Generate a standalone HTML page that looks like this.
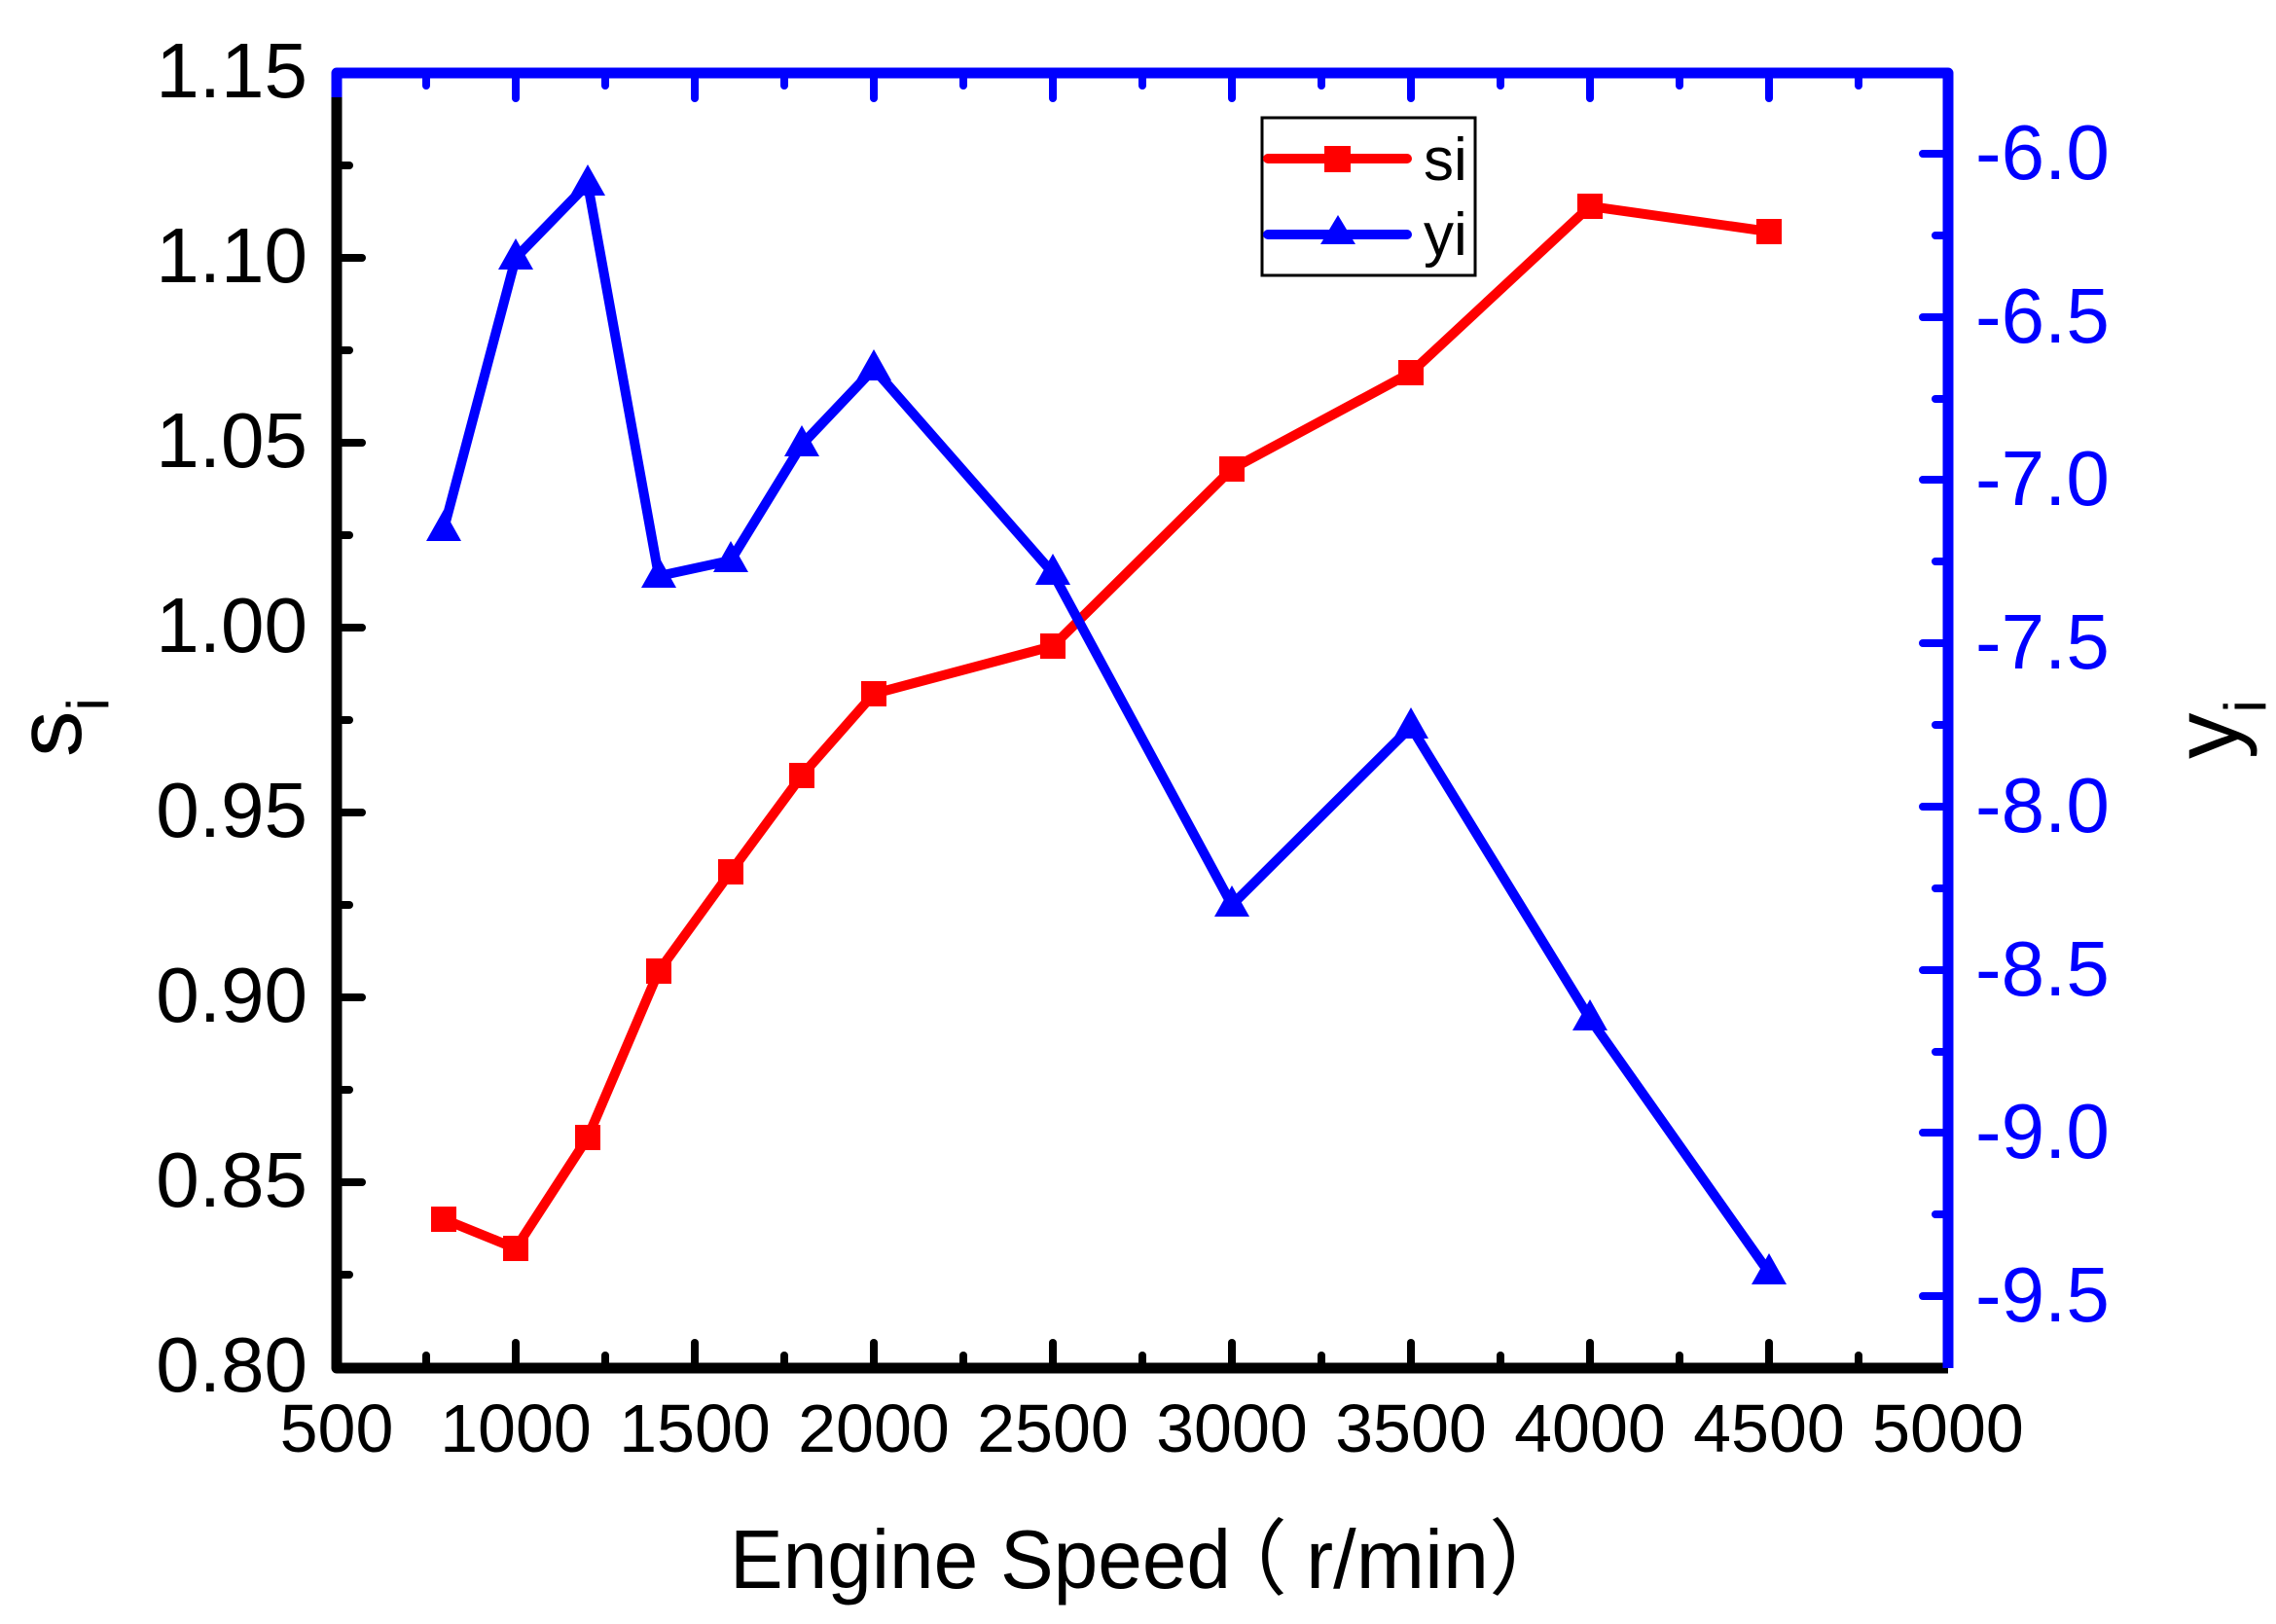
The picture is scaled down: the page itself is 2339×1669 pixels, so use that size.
<!DOCTYPE html>
<html><head><meta charset="utf-8"><style>html,body{margin:0;padding:0;background:#fff}svg{display:block}</style></head>
<body>
<svg width="2339" height="1669" viewBox="0 0 2339 1669" xmlns="http://www.w3.org/2000/svg" font-family="Liberation Sans, Arial, sans-serif">
<rect width="2339" height="1669" fill="#fff"/>
<g stroke="#000" stroke-width="8" stroke-linecap="round">
<line x1="346" y1="1406" x2="346" y2="1380"/><line x1="438" y1="1406" x2="438" y2="1393"/>
<line x1="530" y1="1406" x2="530" y2="1380"/><line x1="622" y1="1406" x2="622" y2="1393"/>
<line x1="714" y1="1406" x2="714" y2="1380"/><line x1="806" y1="1406" x2="806" y2="1393"/>
<line x1="898" y1="1406" x2="898" y2="1380"/><line x1="990" y1="1406" x2="990" y2="1393"/>
<line x1="1082" y1="1406" x2="1082" y2="1380"/><line x1="1174" y1="1406" x2="1174" y2="1393"/>
<line x1="1266" y1="1406" x2="1266" y2="1380"/><line x1="1358" y1="1406" x2="1358" y2="1393"/>
<line x1="1450" y1="1406" x2="1450" y2="1380"/><line x1="1542" y1="1406" x2="1542" y2="1393"/>
<line x1="1634" y1="1406" x2="1634" y2="1380"/><line x1="1726" y1="1406" x2="1726" y2="1393"/>
<line x1="1818" y1="1406" x2="1818" y2="1380"/><line x1="1910" y1="1406" x2="1910" y2="1393"/>
<line x1="346" y1="75" x2="372" y2="75"/><line x1="346" y1="170" x2="359" y2="170"/>
<line x1="346" y1="265" x2="372" y2="265"/><line x1="346" y1="360" x2="359" y2="360"/>
<line x1="346" y1="455" x2="372" y2="455"/><line x1="346" y1="550" x2="359" y2="550"/>
<line x1="346" y1="645" x2="372" y2="645"/><line x1="346" y1="740" x2="359" y2="740"/>
<line x1="346" y1="835" x2="372" y2="835"/><line x1="346" y1="930" x2="359" y2="930"/>
<line x1="346" y1="1025" x2="372" y2="1025"/><line x1="346" y1="1120" x2="359" y2="1120"/>
<line x1="346" y1="1215" x2="372" y2="1215"/><line x1="346" y1="1310" x2="359" y2="1310"/>
</g>
<g stroke="#0000ff" stroke-width="8" stroke-linecap="round">
<line x1="438" y1="75" x2="438" y2="88"/><line x1="530" y1="75" x2="530" y2="101"/>
<line x1="622" y1="75" x2="622" y2="88"/><line x1="714" y1="75" x2="714" y2="101"/>
<line x1="806" y1="75" x2="806" y2="88"/><line x1="898" y1="75" x2="898" y2="101"/>
<line x1="990" y1="75" x2="990" y2="88"/><line x1="1082" y1="75" x2="1082" y2="101"/>
<line x1="1174" y1="75" x2="1174" y2="88"/><line x1="1266" y1="75" x2="1266" y2="101"/>
<line x1="1358" y1="75" x2="1358" y2="88"/><line x1="1450" y1="75" x2="1450" y2="101"/>
<line x1="1542" y1="75" x2="1542" y2="88"/><line x1="1634" y1="75" x2="1634" y2="101"/>
<line x1="1726" y1="75" x2="1726" y2="88"/><line x1="1818" y1="75" x2="1818" y2="101"/>
<line x1="1910" y1="75" x2="1910" y2="88"/>
<line x1="2002" y1="158" x2="1976" y2="158"/><line x1="2002" y1="242" x2="1989" y2="242"/>
<line x1="2002" y1="326" x2="1976" y2="326"/><line x1="2002" y1="410" x2="1989" y2="410"/>
<line x1="2002" y1="493" x2="1976" y2="493"/><line x1="2002" y1="577" x2="1989" y2="577"/>
<line x1="2002" y1="661" x2="1976" y2="661"/><line x1="2002" y1="745" x2="1989" y2="745"/>
<line x1="2002" y1="829" x2="1976" y2="829"/><line x1="2002" y1="913" x2="1989" y2="913"/>
<line x1="2002" y1="997" x2="1976" y2="997"/><line x1="2002" y1="1081" x2="1989" y2="1081"/>
<line x1="2002" y1="1164" x2="1976" y2="1164"/><line x1="2002" y1="1248" x2="1989" y2="1248"/>
<line x1="2002" y1="1332" x2="1976" y2="1332"/>
</g>
<path d="M346 75 L346 1406 L2002 1406" fill="none" stroke="#000" stroke-width="11" stroke-linejoin="round"/>
<path d="M346 100 L346 75 L2002 75 L2002 1406" fill="none" stroke="#0000ff" stroke-width="11" stroke-linejoin="round"/>
<g font-size="80" text-anchor="end" fill="#000">
<text x="316" y="100">1.15</text><text x="316" y="290">1.10</text><text x="316" y="480">1.05</text>
<text x="316" y="670">1.00</text><text x="316" y="860">0.95</text><text x="316" y="1050">0.90</text>
<text x="316" y="1240">0.85</text><text x="316" y="1430">0.80</text>
</g>
<g font-size="80" fill="#0000ff">
<text x="2030" y="184">-6.0</text><text x="2030" y="352">-6.5</text><text x="2030" y="519">-7.0</text>
<text x="2030" y="687">-7.5</text><text x="2030" y="855">-8.0</text><text x="2030" y="1023">-8.5</text>
<text x="2030" y="1190">-9.0</text><text x="2030" y="1358">-9.5</text>
</g>
<g font-size="70" text-anchor="middle" fill="#000">
<text x="346" y="1492">500</text><text x="530" y="1492">1000</text><text x="714" y="1492">1500</text>
<text x="898" y="1492">2000</text><text x="1082" y="1492">2500</text><text x="1266" y="1492">3000</text>
<text x="1450" y="1492">3500</text><text x="1634" y="1492">4000</text><text x="1818" y="1492">4500</text>
<text x="2002" y="1492">5000</text>
</g>
<g font-size="85">
<text x="750" y="1632" textLength="515" lengthAdjust="spacingAndGlyphs">Engine Speed</text>
<text x="1238" y="1632" font-family="Noto Sans CJK SC, sans-serif">（</text>
<text x="1342" y="1632" textLength="188" lengthAdjust="spacingAndGlyphs">r/min</text>
<text x="1530" y="1632" font-family="Noto Sans CJK SC, sans-serif">）</text>
</g>
<text transform="translate(83,778) rotate(-90)" font-size="95">s<tspan font-size="60" dy="28">i</tspan></text>
<text transform="translate(2300,780) rotate(-90)" font-size="95" fill="#000">y<tspan font-size="60" dy="28">i</tspan></text>
<polyline fill="none" stroke="#ff0000" stroke-width="10" stroke-linejoin="round" points="456,1253 530,1283 604,1169 677,998 751,896 824,797 898,713 1082,664 1266,482 1450,383 1634,212 1818,238"/>
<g fill="#ff0000">
<rect x="443" y="1240" width="26" height="26"/><rect x="517" y="1270" width="26" height="26"/>
<rect x="591" y="1156" width="26" height="26"/><rect x="664" y="985" width="26" height="26"/>
<rect x="738" y="883" width="26" height="26"/><rect x="811" y="784" width="26" height="26"/>
<rect x="885" y="700" width="26" height="26"/><rect x="1069" y="651" width="26" height="26"/>
<rect x="1253" y="469" width="26" height="26"/><rect x="1437" y="370" width="26" height="26"/>
<rect x="1621" y="199" width="26" height="26"/><rect x="1805" y="225" width="26" height="26"/>
</g>
<polyline fill="none" stroke="#0000ff" stroke-width="10" stroke-linejoin="round" points="456,544 530,265 604,189 677,592 751,576 824,457 898,379 1082,589 1266,930 1450,747 1634,1047 1818,1308"/>
<g fill="#0000ff">
<path d="M456 524 L474 556 L438 556Z"/><path d="M530 245 L548 277 L512 277Z"/>
<path d="M604 169 L622 201 L586 201Z"/><path d="M677 572 L695 604 L659 604Z"/>
<path d="M751 556 L769 588 L733 588Z"/><path d="M824 437 L842 469 L806 469Z"/>
<path d="M898 359 L916 391 L880 391Z"/><path d="M1082 569 L1100 601 L1064 601Z"/>
<path d="M1266 910 L1284 942 L1248 942Z"/><path d="M1450 727 L1468 759 L1432 759Z"/>
<path d="M1634 1027 L1652 1059 L1616 1059Z"/><path d="M1818 1288 L1836 1320 L1800 1320Z"/>
</g>
<rect x="1297" y="121" width="219" height="162" fill="#fff" stroke="#000" stroke-width="3"/>
<line x1="1303" y1="163" x2="1446" y2="163" stroke="#ff0000" stroke-width="10" stroke-linecap="round"/>
<rect x="1361" y="150" width="27" height="27" fill="#ff0000"/>
<line x1="1303" y1="241" x2="1446" y2="241" stroke="#0000ff" stroke-width="10" stroke-linecap="round"/>
<path d="M1375 221 L1393 251 L1357 251Z" fill="#0000ff"/>
<text x="1463" y="185" font-size="62">si</text>
<text x="1463" y="262" font-size="62">yi</text>
</svg>
</body></html>
